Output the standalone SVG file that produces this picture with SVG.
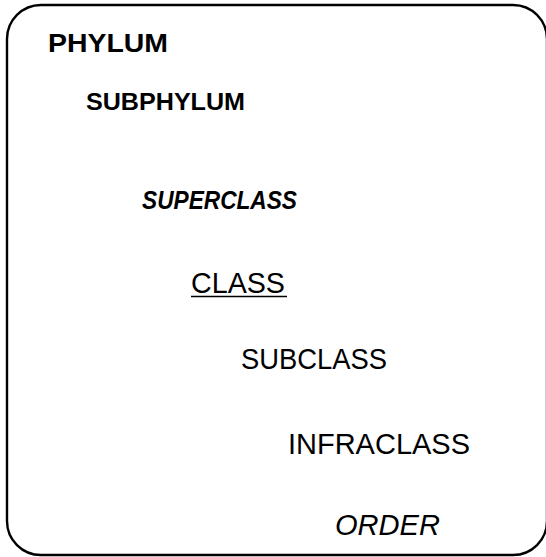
<svg xmlns="http://www.w3.org/2000/svg" width="546" height="557" viewBox="0 0 546 557">
  <style>
    .t { font-family: "Liberation Sans", Arial, sans-serif; fill: #000; }
    .b { font-weight: bold; }
    .i { font-style: italic; }
  </style>
  <rect x="0" y="0" width="546" height="557" fill="#fff"/>
  <g id="frame">
    <rect x="7" y="5" width="540" height="550" rx="34" ry="34" fill="#fff" stroke="#000" stroke-width="2.4"/>
  </g>
  <g id="phylum"><text class="t b" x="48" y="52" font-size="25" textLength="120" lengthAdjust="spacingAndGlyphs">PHYLUM</text></g>
  <g id="subphylum"><text class="t b" x="86" y="110" font-size="23" textLength="159" lengthAdjust="spacingAndGlyphs">SUBPHYLUM</text></g>
  <g id="superclass"><text class="t b i" x="142" y="209" font-size="25" textLength="155" lengthAdjust="spacingAndGlyphs">SUPERCLASS</text></g>
  <g id="class">
    <text class="t" x="191" y="293" font-size="29" textLength="94" lengthAdjust="spacingAndGlyphs">CLASS</text>
    <line x1="191" y1="296.5" x2="287" y2="296.5" stroke="#000" stroke-width="1.6"/>
  </g>
  <g id="subclass"><text class="t" x="241" y="369" font-size="29" textLength="146" lengthAdjust="spacingAndGlyphs">SUBCLASS</text></g>
  <g id="infraclass"><text class="t" x="288" y="454" font-size="29" textLength="182" lengthAdjust="spacingAndGlyphs">INFRACLASS</text></g>
  <g id="order"><text class="t i" x="335" y="535" font-size="29" textLength="105" lengthAdjust="spacingAndGlyphs">ORDER</text></g>
  <g id="connectors"></g>
</svg>
